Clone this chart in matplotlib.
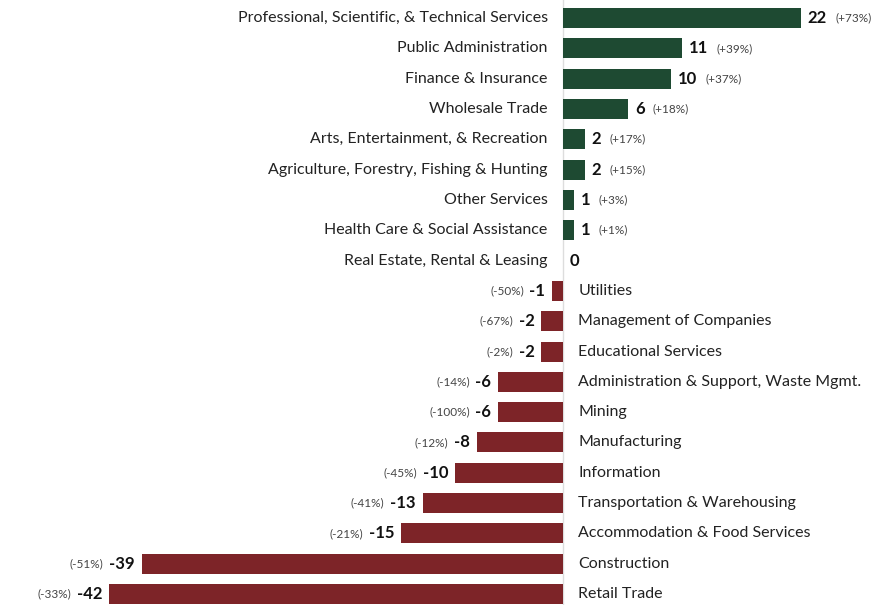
import matplotlib.pyplot as plt

plt.rcParams['font.family'] = ['Lato', 'DejaVu Sans']

industries = [
    "Professional, Scientific, & Technical Services",
    "Public Administration",
    "Finance & Insurance",
    "Wholesale Trade",
    "Arts, Entertainment, & Recreation",
    "Agriculture, Forestry, Fishing & Hunting",
    "Other Services",
    "Health Care & Social Assistance",
    "Real Estate, Rental & Leasing",
    "Utilities",
    "Management of Companies",
    "Educational Services",
    "Administration & Support, Waste Mgmt.",
    "Mining",
    "Manufacturing",
    "Information",
    "Transportation & Warehousing",
    "Accommodation & Food Services",
    "Construction",
    "Retail Trade",
]
change = [22, 11, 10, 6, 2, 2, 1, 1, 0, -1, -2, -2, -6, -6, -8, -10, -13, -15, -39, -42]
pct = ["+73%", "+39%", "+37%", "+18%", "+17%", "+15%", "+3%", "+1%", None,
       "-50%", "-67%", "-2%", "-14%", "-100%", "-12%", "-45%", "-41%", "-21%",
       "-51%", "-33%"]

GREEN = "#1e4a32"
RED = "#7d2428"

fig = plt.figure(figsize=(8.96, 6.05), dpi=100)
ax = fig.add_axes([0, 0, 1, 1])

ypos = list(range(len(industries)))
colors = [GREEN if v >= 0 else RED for v in change]
ax.barh(ypos, change, height=0.66, color=colors)
ax.axvline(0, color="#dddddd", lw=1, zorder=0)

for y, name, v, p in zip(ypos, industries, change, pct):
    if v >= 0:
        ax.annotate(name, xy=(0, y), xytext=(-11, 0), textcoords="offset points",
                    ha="right", va="center", fontsize=11.5, color="#222222")
        num = ax.annotate(str(v), xy=(v, y), xytext=(5, 0), textcoords="offset points",
                          ha="left", va="center", fontsize=12, fontweight="bold",
                          color="#111111")
        if p:
            ax.annotate("(" + p + ")", xy=(1, 0.5), xycoords=num, xytext=(6, 0),
                        textcoords="offset points", ha="left", va="center",
                        fontsize=8.5, color="#444444")
    else:
        ax.annotate(name, xy=(0, y), xytext=(11, 0), textcoords="offset points",
                    ha="left", va="center", fontsize=11.5, color="#222222")
        num = ax.annotate(str(v), xy=(v, y), xytext=(-5, 0), textcoords="offset points",
                          ha="right", va="center", fontsize=12, fontweight="bold",
                          color="#111111")
        ax.annotate("(" + p + ")", xy=(0, 0.5), xycoords=num, xytext=(-4, 0),
                    textcoords="offset points", ha="right", va="center",
                    fontsize=8.5, color="#444444")

ax.set_xlim(-52.13, 30.83)
ax.set_ylim(19.36, -0.594)
ax.axis("off")

fig.savefig("out.png", dpi=100)
